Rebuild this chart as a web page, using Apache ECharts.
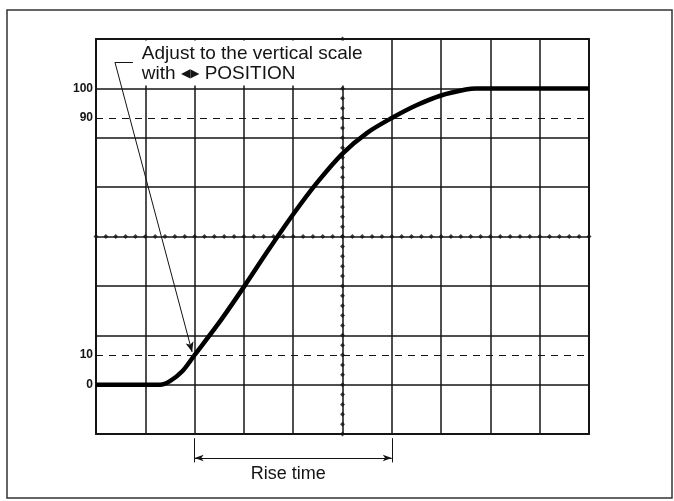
<!DOCTYPE html>
<html>
<head>
<meta charset="utf-8">
<title>Rise time</title>
<script src="https://cdn.jsdelivr.net/npm/echarts@6/dist/echarts.min.js"></script>
<style>
  html, body { margin: 0; padding: 0; background: #fff; }
  #chart { width: 674px; height: 501px; }
</style>
</head>
<body>
<div id="chart"></div>
<script>
// waveform: x in screen divisions, y in percent of the step
const waveX = [0, 1.3, 1.5, 1.75, 2.0, 2.5, 3.0, 3.5, 4.0, 4.5, 5.0, 5.5, 6.0, 6.5, 7.0, 7.5, 7.7, 10];
const waveY = [0, 0, 1.2, 4.5, 10, 21, 33, 45.5, 57.5, 68.5, 78, 85, 90, 94.3, 97.6, 99.6, 100, 100];

const levelLabels = [0, 10, 90, 100];
const dashedLevels = [10, 90];

// leader from the note down to the 10 % crossing
const leaderKnee = [0.385, 108.8];
const leaderEnd = [0.75, 108.8];
const leaderTip = [1.95, 11];
const noteAt = [0.93, 108.4];

// rise time bracket (10 % to 90 % crossings)
const riseStart = 2;
const riseEnd = 6;
const riseText = 'Rise time';
const riseTextAt = [3.9, 0.14];

const DIV = 100 / 6;
const ink = '#141414';
const FONT = '"Liberation Sans", Arial, sans-serif';

// centre graticule minor ticks, 5 per division
const centreTicks = [];
for (let i = 0; i <= 50; i++) centreTicks.push([i / 5, 50]);
for (let i = 0; i <= 40; i++) centreTicks.push([5, -DIV + i * DIV / 5]);

const chart = echarts.init(document.getElementById('chart'));

const edgeAxis = (extra) => Object.assign({
  type: 'value',
  axisLine: { show: true, onZero: false, lineStyle: { color: ink, width: 2 } },
  axisTick: { show: false },
  axisLabel: { show: false },
  splitLine: { show: false }
}, extra);

chart.setOption({
  animation: false,
  backgroundColor: '#fff',
  graphic: [{
    type: 'rect',
    shape: { x: 7, y: 10, width: 665, height: 488 },
    style: { fill: null, stroke: '#333', lineWidth: 1.5 }
  }],
  grid: [
    { left: 96, top: 39, width: 493, height: 395 },
    { left: 96, top: 436, width: 493, height: 44 }
  ],
  xAxis: [
    edgeAxis({ gridIndex: 0, min: 0, max: 10, interval: 1,
      splitLine: { show: true, lineStyle: { color: ink, width: 1.5 } } }),
    edgeAxis({ gridIndex: 0, position: 'top', min: 0, max: 10, interval: 1 }),
    { gridIndex: 1, type: 'value', min: 0, max: 10, show: false }
  ],
  yAxis: [
    edgeAxis({ gridIndex: 0, min: -DIV, max: 7 * DIV, interval: DIV,
      splitLine: { show: true, lineStyle: { color: ink, width: 1.5 } },
      axisLabel: { show: true, customValues: levelLabels, color: ink, fontSize: 12,
        fontWeight: 'bold', fontFamily: FONT, margin: 3 } }),
    edgeAxis({ gridIndex: 0, position: 'right', min: -DIV, max: 7 * DIV, interval: DIV }),
    { gridIndex: 1, type: 'value', min: 0, max: 1, show: false }
  ],
  series: [
    {
      // graticule ticks on the centre lines
      type: 'scatter',
      z: 0,
      silent: true,
      symbol: 'diamond',
      symbolSize: 5,
      itemStyle: { color: ink },
      data: centreTicks
    },
    {
      name: 'waveform',
      type: 'line',
      z: 3,
      silent: true,
      smooth: 0.3,
      showSymbol: false,
      lineStyle: { color: '#000', width: 4.5 },
      data: waveX.map((x, i) => [x, waveY[i]]),
      markArea: {
        silent: true,
        z: 2,
        itemStyle: { color: '#fff' },
        data: [[{ coord: [0.03, 101] }, { coord: [5.97, 7 * DIV - 0.5] }]]
      },
      markLine: {
        silent: true,
        symbol: 'none',
        label: { show: false },
        lineStyle: { color: ink, width: 1, type: 'solid' },
        data: [
          ...dashedLevels.map(v => ({ yAxis: v, lineStyle: { type: [7, 6], width: 1.2, color: ink } })),
          [{ coord: leaderEnd }, { coord: leaderKnee }],
          [{ coord: leaderKnee, symbol: 'none' }, { coord: leaderTip, symbol: 'arrow', symbolSize: [6, 10] }]
        ]
      },
      markPoint: {
        silent: true,
        symbol: 'circle',
        symbolSize: 0,
        label: {
          show: true,
          position: 'right',
          distance: 0,
          align: 'left',
          verticalAlign: 'middle',
          formatter: '{a|Adjust to the vertical scale}\n{a|with }{s|◀▶}{a| POSITION}',
          rich: {
            a: { fontFamily: FONT, fontSize: 19, color: ink, lineHeight: 20 },
            s: { fontFamily: 'DejaVu Sans', fontSize: 12, color: ink, lineHeight: 20 }
          }
        },
        data: [{ coord: noteAt }]
      }
    },
    {
      name: 'rise time',
      type: 'line',
      xAxisIndex: 2,
      yAxisIndex: 2,
      silent: true,
      data: [],
      markLine: {
        silent: true,
        symbol: 'none',
        label: { show: false },
        lineStyle: { color: ink, width: 1, type: 'solid' },
        data: [
          [{ coord: [riseStart, 0.95] }, { coord: [riseStart, 0.4] }],
          [{ coord: [riseEnd, 0.95] }, { coord: [riseEnd, 0.4] }],
          [{ coord: [riseStart, 0.5], symbol: 'arrow', symbolSize: [5, 9] },
           { coord: [riseEnd, 0.5], symbol: 'arrow', symbolSize: [5, 9] }]
        ]
      },
      markPoint: {
        silent: true,
        symbol: 'circle',
        symbolSize: 0,
        label: { show: true, position: 'inside', formatter: riseText,
          fontFamily: FONT, fontSize: 18, color: ink },
        data: [{ coord: riseTextAt }]
      }
    }
  ]
});
</script>
</body>
</html>
